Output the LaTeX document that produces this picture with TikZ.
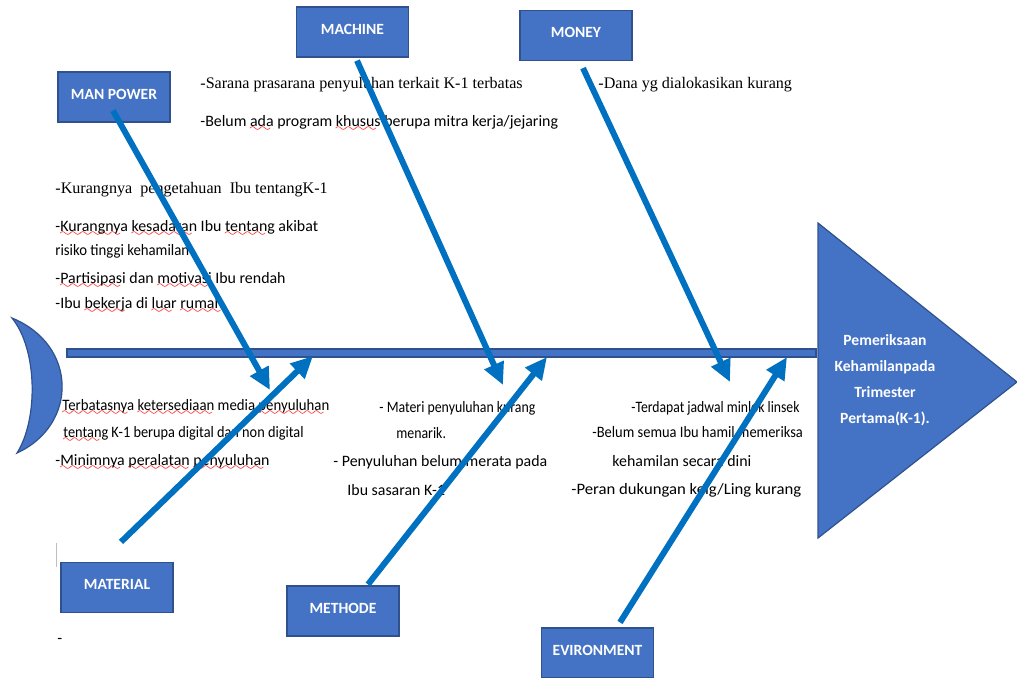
\documentclass[tikz,border=0pt]{standalone}
\usepackage{fontspec}
\setmainfont{Liberation Serif}
\newfontfamily\calib{Carlito}
\usepackage{graphicx}
\usetikzlibrary{arrows.meta}
\definecolor{catfill}{HTML}{4472C4}
\definecolor{catedge}{HTML}{2F528F}
\definecolor{bonec}{HTML}{0070C0}
% red spell-check wave under a word
\font\wavefont=lasy6
\newcommand\sq[1]{\leavevmode\setbox0\hbox{#1}%
  \rlap{\textcolor{red}{\lower2.6pt\hbox to\wd0{\leaders\hbox{\wavefont\char58}\hfill}}}\box0\relax}
% narrower line
\newcommand\nar[2]{\scalebox{#1}[1]{#2}}
\tikzset{
  catbox/.style={rectangle,fill=catfill,draw=catedge,line width=0.6pt,
    minimum width=56pt,minimum height=25pt,inner sep=0pt,text depth=3pt,
    text=white,font=\calib\bfseries\fontsize{7.8}{9}\selectfont},
  bone/.style={draw=bonec,line width=3pt,-{Triangle[length=11pt,width=10pt]}},
  cb/.style={font=\calib\fontsize{7.95}{10}\selectfont,anchor=base west,inner sep=0pt},
  tm/.style={font=\fontsize{8.05}{10}\selectfont,anchor=base west,inner sep=0pt},
  fishpart/.style={fill=catfill,draw=catedge,line width=0.6pt},
}
\begin{document}
\begin{tikzpicture}[x=0.5pt,y=-0.5pt]
  \useasboundingbox (0,0) rectangle (1017,677);
  % tail, spine and head
  \draw[fishpart] (12,318) .. controls (78,345) and (78,425) .. (17,453)
    .. controls (38,420) and (38,350) .. (12,318) -- cycle;
  \draw[fishpart] (67,349) rectangle (816,357);
  \draw[fishpart] (818,223) -- (1017,382) -- (818,538) -- cycle;
  \node[text=white,align=center,inner sep=0pt,
    font=\calib\bfseries\fontsize{7.8}{13}\selectfont] (effect) at (885,380)
    {Pemeriksaan\\Kehamilanpada\\Trimester\\Pertama(K-1).};
  % category boxes
  \node[catbox] (man) at (114,97) {MAN POWER};
  \node[catbox] (mach) at (352.5,32) {MACHINE};
  \node[catbox] (money) at (576,35.5) {MONEY};
  \node[catbox] (mat) at (117,587.5) {MATERIAL};
  \node[catbox] (meth) at (343,611) {METHODE};
  \node[catbox] (env) at (597.5,653) {EVIRONMENT};
  % causes
  \foreach \n/\x/\y/\txt in {sar/200/88/{-Sarana prasarana penyuluhan terkait K-1 terbatas},
      dana/598/88/{-Dana yg dialokasikan kurang},
      kur/55/193/{-Kurangnya~ pengetahuan~ Ibu tentangK-1}}
    \node[tm] (\n) at (\x,\y) {\txt};
  \foreach \n/\x/\y/\txt in {bel/200/126/{-Belum \sq{ada} program \sq{khusus} berupa mitra kerja/jejaring},
      kes/55/231/{-\sq{Kurangnya} \sq{kesadaran} Ibu \sq{tentang} akibat},
      ris/55/255/{\nar{0.93}{risiko tinggi kehamilan}},
      par/55/283/{-\sq{Partisipasi} dan \sq{motivasi} Ibu rendah},
      ibu/55/308/{-Ibu \sq{bekerja} di \sq{luar} \sq{rumah}},
      ter/62/410/{\nar{0.93}{\sq{Terbatasnya} \sq{ketersediaan} media \sq{penyuluhan}}},
      ten/63/437/{\nar{0.9}{\sq{tentang} K-1 berupa digital dan non digital}},
      min/55/465/{-\sq{Minimnya} \sq{peralatan} \sq{penyuluhan}},
      mat1/379/412/{\nar{0.87}{- Materi penyuluhan kurang}},
      mat2/396/438/{\nar{0.87}{menarik.}},
      pen1/333/466/{- Penyuluhan belum merata pada},
      pen2/347/495/{Ibu sasaran K-1},
      jad/631/412/{\nar{0.86}{-Terdapat jadwal minlok linsek}},
      blm/592/437/{\nar{0.91}{-Belum semua Ibu hamil memeriksa}},
      keh/612/466/{kehamilan secara dini},
      per/571/494/{\nar{1.05}{-Peran dukungan kelg/Ling kurang}},
      dash/57/643/{-}}
    \node[cb] (\n) at (\x,\y) {\txt};
  \draw[black!25,line width=0.4pt] (56,543) -- (56,567);
  % bones
  \coordinate (manT) at (270,390);
  \coordinate (machT) at (503,385);
  \coordinate (moneyT) at (730,382);
  \coordinate (matT) at (313,356);
  \coordinate (methT) at (547,357);
  \coordinate (envT) at (787,357);
  \draw[bone] ([shift={(-1,-12)}]man.south) -- (manT);
  \draw[bone] ([shift={(4.5,3)}]mach.south) -- (machT);
  \draw[bone] ([shift={(7,7)}]money.south) -- (moneyT);
  \draw[bone] ([shift={(4,-20)}]mat.north) -- (matT);
  \draw[bone] ([shift={(25,-1)}]meth.north) -- (methT);
  \draw[bone] ([shift={(22.5,-5)}]env.north) -- (envT);
\end{tikzpicture}
\end{document}
